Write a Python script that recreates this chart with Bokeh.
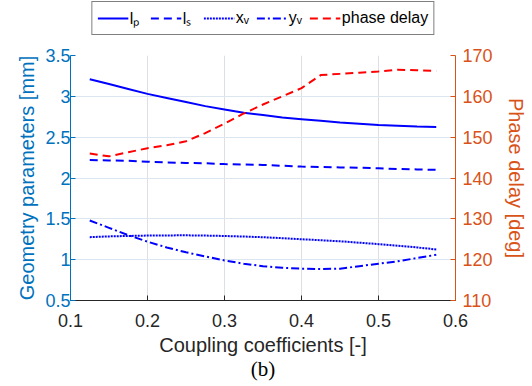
from bokeh.plotting import figure
from bokeh.layouts import column
from bokeh.models import (Range1d, LinearAxis, FixedTicker, Legend, LegendItem,
                          CustomJSTickFormatter)
from bokeh.embed import file_html
from bokeh.resources import INLINE

# ---- data ----
coupling = [0.125, 0.15, 0.175, 0.2, 0.225, 0.25, 0.275, 0.3, 0.325, 0.35,
            0.375, 0.4, 0.425, 0.45, 0.475, 0.5, 0.525, 0.55, 0.575]
lp = [3.21, 3.15, 3.09, 3.03, 2.98, 2.93, 2.88, 2.84, 2.80, 2.77,
      2.74, 2.72, 2.70, 2.68, 2.665, 2.65, 2.64, 2.63, 2.625]
ls = [2.22, 2.215, 2.21, 2.20, 2.19, 2.185, 2.18, 2.17, 2.165, 2.16,
      2.15, 2.14, 2.135, 2.13, 2.125, 2.12, 2.11, 2.105, 2.10]
xv = [1.275, 1.285, 1.29, 1.295, 1.297, 1.298, 1.295, 1.29, 1.283, 1.275,
      1.263, 1.25, 1.238, 1.225, 1.208, 1.19, 1.17, 1.15, 1.125]
yv = [1.48, 1.39, 1.30, 1.22, 1.15, 1.09, 1.04, 0.99, 0.95, 0.92,
      0.90, 0.89, 0.885, 0.89, 0.92, 0.95, 0.98, 1.02, 1.06]
phase = [146.0, 145.3, 146.3, 147.3, 148.0, 149.0, 151.0, 153.3, 155.8, 158.0,
         160.0, 162.0, 165.2, 165.5, 165.8, 166.1, 166.5, 166.4, 166.2]

series = [lp, ls, xv, yv, phase]
series_labels = ["lₚ", "lₛ", "xᵥ", "yᵥ", "phase delay"]
x_ticks = [0.1, 0.2, 0.3, 0.4, 0.5, 0.6]
left_ticks = [0.5, 1.0, 1.5, 2.0, 2.5, 3.0, 3.5]
right_ticks = [110, 120, 130, 140, 150, 160, 170]

BLUE_AX = "#0072BD"
ORANGE_AX = "#D95319"
DARK = "#262626"
FONT = "Liberation Sans"
TICK_PX = "18px"
TITLE_PX = "20px"

styles = [
    dict(line_color="#0000FF", line_width=2, line_dash="solid"),
    dict(line_color="#0000FF", line_width=2, line_dash="8 5"),
    dict(line_color="#0000FF", line_width=2, line_dash="2 1"),
    dict(line_color="#0000FF", line_width=2, line_dash="8 3 2 3"),
    dict(line_color="#FF0000", line_width=2, line_dash="8 5"),
]

# ---- main plot ----
p = figure(width=532, height=350, output_backend="svg", toolbar_location=None,
           x_range=Range1d(0.1, 0.6), y_range=Range1d(0.5, 3.5),
           min_border_left=70, min_border_right=77, min_border_top=19,
           min_border_bottom=86)
p.outline_line_color = None
p.extra_y_ranges = {"phase": Range1d(110, 170)}

for i in range(4):
    p.line(coupling, series[i], **styles[i])
p.line(coupling, phase, y_range_name="phase", **styles[4])

fmt = CustomJSTickFormatter(code="return String(Math.round(tick*10)/10);")


def style_axis(ax, color, tick_standoff, label_standoff):
    ax.axis_line_color = color
    ax.major_tick_line_color = color
    ax.major_tick_in = 5
    ax.major_tick_out = 0
    ax.minor_tick_line_color = None
    ax.major_label_text_color = color
    ax.major_label_text_font = FONT
    ax.major_label_text_font_size = TICK_PX
    ax.major_label_standoff = tick_standoff
    ax.axis_label_text_color = color
    ax.axis_label_text_font = FONT
    ax.axis_label_text_font_size = TITLE_PX
    ax.axis_label_text_font_style = "normal"
    ax.axis_label_standoff = label_standoff


xa = p.xaxis[0]
xa.ticker = FixedTicker(ticks=x_ticks)
xa.axis_label = "Coupling coefficients [-]"
style_axis(xa, DARK, 13, 4)

ya = p.yaxis[0]
ya.ticker = FixedTicker(ticks=left_ticks)
ya.formatter = fmt
ya.axis_label = "Geometry parameters [mm]"
style_axis(ya, BLUE_AX, 0, 4)

ra = LinearAxis(y_range_name="phase", ticker=FixedTicker(ticks=right_ticks))
ra.axis_label = "Phase delay [deg]"
style_axis(ra, ORANGE_AX, 7, 9)
p.add_layout(ra, "right")

# caption "(b)" as an extra, tick-less axis below the x axis
cap = LinearAxis(ticker=FixedTicker(ticks=[]), axis_label="(b)")
cap.axis_line_color = None
cap.major_tick_line_color = None
cap.minor_tick_line_color = None
cap.major_label_text_font_size = "0px"
cap.major_label_standoff = 0
cap.axis_label_text_font = "Liberation Serif"
cap.axis_label_text_font_size = "21px"
cap.axis_label_text_font_style = "normal"
cap.axis_label_text_color = "#000000"
cap.axis_label_standoff = -2
p.add_layout(cap, "below")

p.xgrid.ticker = FixedTicker(ticks=x_ticks)
p.ygrid.ticker = FixedTicker(ticks=left_ticks)
p.xgrid.grid_line_color = "#dcdfe3"
p.ygrid.grid_line_color = "#dbe6f0"

# ---- legend strip (its lines fall outside its own visible range) ----
lg = figure(width=532, height=36, output_backend="svg", toolbar_location=None,
            x_range=Range1d(0, 1), y_range=Range1d(1000, 1001),
            x_axis_type=None, y_axis_type=None,
            min_border_left=0, min_border_right=15, min_border_top=0,
            min_border_bottom=0)
lg.outline_line_color = None
lg.xgrid.visible = False
lg.ygrid.visible = False
items = []
for lab, st, vals in zip(series_labels, styles, series):
    r = lg.line(coupling, vals, **st)
    items.append(LegendItem(label=lab, renderers=[r]))
legend = Legend(items=items, orientation="horizontal", location="center")
legend.border_line_color = "#000000"
legend.border_line_width = 1
legend.background_fill_color = "white"
legend.background_fill_alpha = 1
legend.label_text_font = FONT
legend.label_text_font_size = "16px"
legend.label_text_color = "#000000"
legend.glyph_width = 31
legend.glyph_height = 20
legend.label_standoff = 2
legend.label_height = 20
legend.spacing = 0
legend.padding = 5
legend.margin = 0
lg.add_layout(legend, "center")

layout = column(lg, p, spacing=0)
open("out.html", "w").write(file_html(layout, INLINE))
